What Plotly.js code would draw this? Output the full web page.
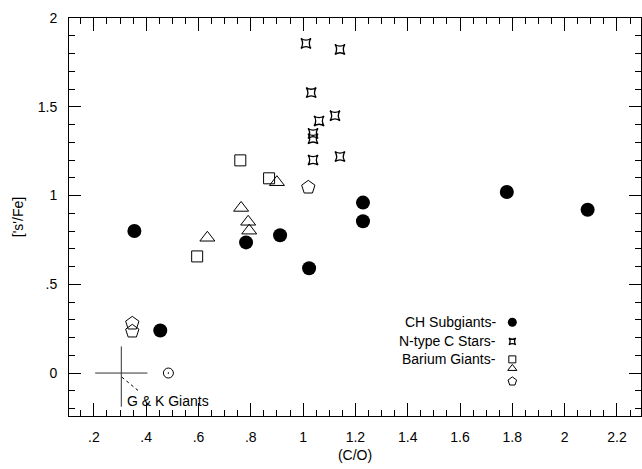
<!DOCTYPE html>
<html>
<head>
<meta charset="utf-8">
<script src="https://cdn.plot.ly/plotly-3.0.1.min.js"></script>
<style>html,body{margin:0;padding:0;background:#fff;}#chart{width:642px;height:469px;}</style>
</head>
<body>
<div id="chart"></div>
<script>
// CH subgiants (filled circles)
const chX = [0.355, 0.454, 0.782, 0.912, 1.023, 1.229, 1.229, 1.779, 2.088];
const chY = [0.80, 0.24, 0.736, 0.776, 0.590, 0.96, 0.855, 1.02, 0.92];
// N-type C stars
const nX = [1.011, 1.141, 1.031, 1.122, 1.061, 1.038, 1.038, 1.038, 1.141];
const nY = [1.857, 1.823, 1.58, 1.45, 1.42, 1.35, 1.32, 1.20, 1.22];
// Barium giants: squares, triangles, pentagons
const baSqX = [0.760, 0.870, 0.595];
const baSqY = [1.198, 1.097, 0.657];
const baTrX = [0.900, 0.763, 0.790, 0.794, 0.634];
const baTrY = [1.075, 0.930, 0.852, 0.802, 0.762];
const baPeX = [1.020, 0.347, 0.347];
const baPeY = [1.046, 0.280, 0.235];
// Sun
const sunX = [0.485];
const sunY = [0.0];
// G & K giants mean with spread
const gkX = [0.305];
const gkY = [0.0];
const gkErrX = [0.1];
const gkErrYPlus = [0.15];
const gkErrYMinus = [0.19];
const gkPointerX = [0.307, 0.376];
const gkPointerY = [-0.023, -0.107];
// Key
const keyLabels = ["CH Subgiants-", "N-type C Stars-", "Barium Giants-"];
const keyLabelY = [0.286, 0.178, 0.077];
const keyLabelX = 1.746;
const keyMarkX = 1.80;
const keyMarkY = [0.286, 0.178, 0.077, 0.026, -0.047];
// Axis ticks
const xTickVals = [0.2, 0.4, 0.6, 0.8, 1.0, 1.2, 1.4, 1.6, 1.8, 2.0, 2.2];
const xTickText = [".2", ".4", ".6", ".8", "1", "1.2", "1.4", "1.6", "1.8", "2", "2.2"];
const yTickVals = [0, 0.5, 1, 1.5, 2];
const yTickText = ["0", ".5", "1", "1.5", "2"];

const black = "#000";
const traces = [
  {x: chX, y: chY, mode: "markers", type: "scatter",
   marker: {symbol: "circle", size: 14, color: black, line: {width: 0}}},
  {x: nX, y: nY, mode: "markers", type: "scatter",
   marker: {symbol: "star-square-open", size: 9, color: black, line: {width: 1.3, color: black}}},
  {x: baSqX, y: baSqY, mode: "markers", type: "scatter",
   marker: {symbol: "square-open", size: 11, color: black, line: {width: 1, color: black}}},
  {x: baTrX, y: baTrY, mode: "markers", type: "scatter",
   marker: {symbol: "triangle-up-open", size: 13, color: black, line: {width: 1, color: black}}},
  {x: baPeX, y: baPeY, mode: "markers", type: "scatter",
   marker: {symbol: "pentagon-open", size: 14, color: black, line: {width: 1, color: black}}},
  {x: sunX, y: sunY, mode: "markers", type: "scatter",
   marker: {symbol: "circle-open-dot", size: 10, color: black, line: {width: 1, color: black}}},
  {x: gkX, y: gkY, mode: "markers", type: "scatter",
   marker: {size: 1, color: "rgba(0,0,0,0)"},
   error_x: {type: "data", array: gkErrX, arrayminus: gkErrX, width: 0, thickness: 1, color: "#333"},
   error_y: {type: "data", array: gkErrYPlus, arrayminus: gkErrYMinus, width: 0, thickness: 1, color: "#333"}},
  {x: gkPointerX, y: gkPointerY, mode: "lines", type: "scatter",
   line: {color: black, width: 1, dash: "dot"}},
  {x: [keyMarkX], y: [keyMarkY[0]], mode: "markers", type: "scatter",
   marker: {symbol: "circle", size: 9, color: black}},
  {x: [keyMarkX], y: [keyMarkY[1]], mode: "markers", type: "scatter",
   marker: {symbol: "star-square-open", size: 6, color: black, line: {width: 1.3, color: black}}},
  {x: [keyMarkX], y: [keyMarkY[2]], mode: "markers", type: "scatter",
   marker: {symbol: "square-open", size: 7, color: black, line: {width: 1, color: black}}},
  {x: [keyMarkX], y: [keyMarkY[3]], mode: "markers", type: "scatter",
   marker: {symbol: "triangle-up-open", size: 8, color: black, line: {width: 1, color: black}}},
  {x: [keyMarkX], y: [keyMarkY[4]], mode: "markers", type: "scatter",
   marker: {symbol: "pentagon-open", size: 9, color: black, line: {width: 1, color: black}}}
];

const annotations = keyLabels.map((t, i) => ({
  x: keyLabelX, y: keyLabelY[i], xref: "x", yref: "y", text: t, showarrow: false,
  xanchor: "right", yanchor: "middle", font: {size: 14, color: black}
}));
annotations.push({
  x: 0.318, y: -0.155, xref: "x", yref: "y", text: "G & K Giants", showarrow: false,
  xanchor: "left", yanchor: "middle", font: {size: 14, color: black}
});

const layout = {
  width: 642, height: 469,
  margin: {l: 69, r: 1, t: 18, b: 53},
  paper_bgcolor: "#fff", plot_bgcolor: "#fff",
  showlegend: false,
  font: {family: "'Liberation Sans', Arial, sans-serif", size: 14, color: black},
  xaxis: {
    range: [0.105, 2.292], showgrid: false, zeroline: false,
    tickmode: "array", tickvals: xTickVals, ticktext: xTickText,
    ticks: "inside", ticklen: 13, tickwidth: 1, tickcolor: black,
    showline: true, linecolor: black, linewidth: 1, mirror: "ticks",
    minor: {tickmode: "linear", tick0: 0, dtick: 0.05, ticks: "inside", ticklen: 6, tickcolor: black, tickwidth: 1},
    tickfont: {size: 14, color: black},
    ticklabelstandoff: 8,
    title: {text: "(C/O)", font: {size: 14, color: black}, standoff: 6},
    automargin: false
  },
  yaxis: {
    range: [-0.242, 2.0], showgrid: false, zeroline: false,
    tickmode: "array", tickvals: yTickVals, ticktext: yTickText,
    ticks: "inside", ticklen: 12, tickwidth: 1, tickcolor: black,
    showline: true, linecolor: black, linewidth: 1, mirror: "ticks",
    minor: {tickmode: "linear", tick0: 0, dtick: 0.1, ticks: "inside", ticklen: 6, tickcolor: black, tickwidth: 1},
    tickfont: {size: 14, color: black},
    ticklabelstandoff: 8,
    title: {text: "['s'/Fe]", font: {size: 14, color: black}, standoff: 10},
    automargin: false
  },
  annotations: annotations
};

Plotly.newPlot("chart", traces, layout, {displayModeBar: false, staticPlot: true});
</script>
</body>
</html>
